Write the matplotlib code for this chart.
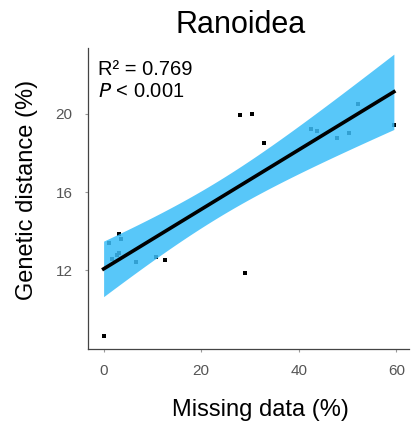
import numpy as np
import matplotlib
matplotlib.use("Agg")
import matplotlib.pyplot as plt

plt.rcParams['font.family'] = ['Liberation Sans', 'DejaVu Sans']

# Missing data (%) and genetic distance (%) per sample
missing = [0.0, 1.2, 3.2, 3.5, 1.8, 2.8, 3.2, 6.6, 10.8, 12.5,
           28.0, 30.4, 28.9, 32.8, 42.5, 43.7, 47.9, 50.4, 52.2, 59.5]
distance = [8.64, 13.37, 13.83, 13.6, 12.55, 12.8, 12.9, 12.41, 12.69, 12.52,
            19.95, 19.98, 11.87, 18.52, 19.22, 19.12, 18.79, 19.01, 20.49, 19.45]

title = "Ranoidea"
xlabel = "Missing data (%)"
ylabel = "Genetic distance (%)"
xticks = [0, 20, 40, 60]
yticks = [12, 16, 20]
r2_text = "R\u00b2 = 0.769"
p_text = "$\\mathit{P}$ < 0.001"

x = np.asarray(missing)
y = np.asarray(distance)

# ordinary least squares fit with 95% confidence band
n = len(x)
slope, intercept = np.polyfit(x, y, 1)
resid = y - (slope * x + intercept)
s = np.sqrt(np.sum(resid ** 2) / (n - 2))
xm = x.mean()
sxx = np.sum((x - xm) ** 2)
t_crit = 2.101  # two-sided 95%, df = 18
xs = np.linspace(x.min(), x.max(), 200)
ys = slope * xs + intercept
half = t_crit * s * np.sqrt(1.0 / n + (xs - xm) ** 2 / sxx)

W, H = 411, 424
fig = plt.figure(figsize=(W / 100, H / 100), dpi=100)
ax = fig.add_axes([88 / W, 1 - 349 / H, (409 - 88) / W, (349 - 48) / H])

ax.scatter(x, y, s=5, marker='s', color='black', linewidths=0, zorder=2)
ax.fill_between(xs, ys - half, ys + half, color='#3BBDF8', alpha=0.85,
                linewidth=0, zorder=3)
ax.plot(xs, ys, color='black', linewidth=2.6, zorder=4)

ax.set_xlim(-3.2, 62.6)
ax.set_ylim(7.97, 23.37)
ax.set_xticks(xticks)
ax.set_yticks(yticks)
ax.tick_params(axis='both', colors='#9a9a9a', labelcolor='#555555',
               labelsize=11, length=2, width=0.8)
ax.tick_params(axis='x', pad=9)
ax.tick_params(axis='y', pad=9)
for side in ('top', 'right'):
    ax.spines[side].set_visible(False)
for side in ('left', 'bottom'):
    ax.spines[side].set_color('#444444')
    ax.spines[side].set_linewidth(0.9)

ax.text(0.03, 0.929, r2_text, transform=ax.transAxes, fontsize=14.5,
        va='center', ha='left')
ax.text(0.03, 0.855, p_text, transform=ax.transAxes, fontsize=14.5,
        va='center', ha='left')

fig.text(241 / W, 1 - 33 / H, title, fontsize=22, ha='center', va='baseline')
fig.text(260 / W, 1 - 416 / H, xlabel, fontsize=17, ha='center', va='baseline')
fig.text(33 / W, 1 - 190 / H, ylabel, fontsize=17, ha='center',
         va='baseline', rotation=90, rotation_mode='anchor')

fig.savefig("out.png", dpi=100)
